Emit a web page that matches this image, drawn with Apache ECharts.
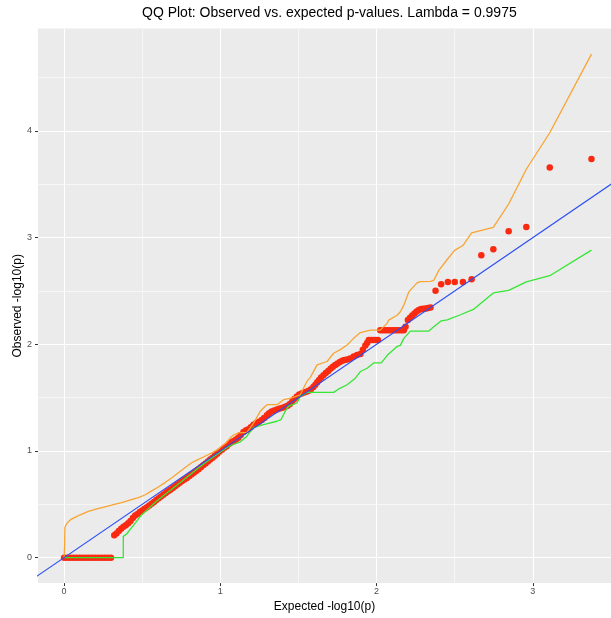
<!DOCTYPE html>
<html>
<head>
<meta charset="utf-8">
<script src="https://cdn.jsdelivr.net/npm/echarts@6/dist/echarts.min.js"></script>
<style>
  html, body { margin: 0; padding: 0; background: #fff; }
  #chart { width: 611px; height: 618px; }
</style>
</head>
<body>
<div id="chart"></div>
<script>
// axis ticks and ranges (expected / observed -log10 p)
const X_TICKS = [0, 1, 2, 3]
const Y_TICKS = [0, 1, 2, 3, 4]
const X_MINOR = [0.5, 1.5, 2.5]
const Y_MINOR = [0.5, 1.5, 2.5, 3.5, 4.5]
const X_RANGE = [-0.167, 3.5]
const Y_RANGE = [-0.238, 4.96]

// observed vs expected points
const OBS_X = [
  0, 0.02, 0.04, 0.06, 0.08, 0.10, 0.12, 0.14, 0.16, 0.18, 0.20, 0.22, 0.24, 0.26, 0.28, 0.30,
  0.321, 0.335, 0.350, 0.365, 0.380, 0.395, 0.410, 0.425, 0.440, 0.455, 0.470, 0.485, 0.500,
  0.515, 0.530, 0.545, 0.560, 0.575, 0.590, 0.605, 0.620, 0.635, 0.650, 0.665, 0.680, 0.695,
  0.710, 0.725, 0.740, 0.755, 0.770, 0.785, 0.800, 0.815, 0.830, 0.845, 0.860, 0.875, 0.890,
  0.905, 0.920, 0.935, 0.950, 0.965, 0.980, 0.995, 1.010, 1.025, 1.040, 1.055, 1.070, 1.085,
  1.100, 1.115, 1.130, 1.148, 1.165, 1.180, 1.195, 1.212, 1.230, 1.248, 1.265, 1.280, 1.298,
  1.312, 1.328, 1.345, 1.362, 1.380, 1.398, 1.415, 1.430, 1.445, 1.460, 1.475, 1.490, 1.505,
  1.520, 1.535, 1.550, 1.565, 1.580, 1.595, 1.608, 1.620, 1.632, 1.645, 1.660, 1.675, 1.690,
  1.705, 1.720, 1.735, 1.750, 1.765, 1.780, 1.795, 1.811, 1.830, 1.853, 1.875, 1.896, 1.912,
  1.928, 1.940, 1.950, 1.965, 1.980, 1.995, 2.008, 2.023, 2.040, 2.055, 2.070, 2.085, 2.100,
  2.115, 2.130, 2.145, 2.160, 2.174, 2.185, 2.200, 2.214, 2.228, 2.242, 2.256, 2.270, 2.285,
  2.300, 2.316, 2.330, 2.345, 2.377, 2.413, 2.456, 2.500, 2.552, 2.608, 2.670, 2.747, 2.845,
  2.958, 3.108, 3.375
]
const OBS_Y = [
  0, 0, 0, 0, 0, 0, 0, 0, 0, 0, 0, 0, 0, 0, 0, 0,
  0.210, 0.228, 0.250, 0.272, 0.290, 0.305, 0.322, 0.345, 0.372, 0.395, 0.410, 0.428, 0.442,
  0.458, 0.474, 0.490, 0.506, 0.522, 0.540, 0.557, 0.573, 0.590, 0.606, 0.622, 0.638, 0.654,
  0.670, 0.686, 0.702, 0.718, 0.733, 0.748, 0.764, 0.780, 0.797, 0.813, 0.830, 0.848, 0.866,
  0.884, 0.902, 0.920, 0.937, 0.955, 0.975, 0.995, 1.012, 1.030, 1.045, 1.065, 1.082, 1.095,
  1.108, 1.125, 1.150, 1.178, 1.195, 1.205, 1.222, 1.245, 1.262, 1.275, 1.290, 1.310, 1.335,
  1.355, 1.370, 1.380, 1.390, 1.398, 1.405, 1.415, 1.425, 1.440, 1.465, 1.490, 1.510, 1.530,
  1.540, 1.548, 1.556, 1.565, 1.580, 1.600, 1.622, 1.645, 1.665, 1.690, 1.710, 1.730, 1.750,
  1.770, 1.790, 1.805, 1.820, 1.835, 1.845, 1.852, 1.858, 1.868, 1.885, 1.900, 1.910, 1.950,
  1.990, 2.015, 2.040, 2.040, 2.040, 2.040, 2.040, 2.133, 2.133, 2.133, 2.133, 2.133, 2.133,
  2.133, 2.133, 2.133, 2.133, 2.133, 2.165, 2.227, 2.250, 2.270, 2.290, 2.308, 2.322, 2.330,
  2.334, 2.336, 2.340, 2.345, 2.503, 2.562, 2.585, 2.585, 2.585, 2.610, 2.835, 2.890, 3.060,
  3.100, 3.657, 3.737
]

// upper confidence band (orange)
const UPPER_X = [
  0, 0.003, 0.005, 0.015, 0.026, 0.045, 0.069, 0.10, 0.155, 0.21, 0.262, 0.315, 0.368, 0.42,
  0.475, 0.52, 0.561, 0.60, 0.646, 0.69, 0.731, 0.775, 0.817, 0.85, 0.881, 0.915, 0.945, 0.98,
  1.01, 1.04, 1.063, 1.084, 1.116, 1.17, 1.191, 1.212, 1.255, 1.287, 1.30, 1.362, 1.405, 1.437,
  1.48, 1.511, 1.554, 1.576, 1.619, 1.683, 1.725, 1.768, 1.811, 1.853, 1.896, 1.907, 1.96,
  2.023, 2.067, 2.077, 2.131, 2.152, 2.174, 2.206, 2.26, 2.281, 2.345, 2.366, 2.398, 2.452,
  2.499, 2.552, 2.608, 2.747, 2.845, 2.958, 3.108, 3.375
]
const UPPER_Y = [
  0, 0.10, 0.284, 0.315, 0.335, 0.360, 0.378, 0.400, 0.434, 0.457, 0.477, 0.497, 0.517, 0.540,
  0.564, 0.590, 0.626, 0.660, 0.704, 0.750, 0.797, 0.845, 0.890, 0.915, 0.937, 0.960, 0.984, 1.010,
  1.046, 1.080, 1.124, 1.150, 1.170, 1.175, 1.217, 1.260, 1.372, 1.420, 1.434, 1.434, 1.481, 1.490,
  1.510, 1.527, 1.652, 1.690, 1.807, 1.839, 1.916, 1.950, 1.994, 2.056, 2.110, 2.118, 2.133,
  2.133, 2.196, 2.227, 2.273, 2.305, 2.367, 2.491, 2.578, 2.588, 2.590, 2.600, 2.693, 2.795,
  2.880, 2.926, 3.044, 3.097, 3.315, 3.641, 3.983, 4.720
]

// lower confidence band (green)
const LOWER_X = [
  0, 0.379, 0.379, 0.40, 0.45, 0.497, 0.54, 0.582, 0.635, 0.689, 0.74, 0.796, 0.85, 0.903,
  0.955, 1.01, 1.05, 1.084, 1.127, 1.17, 1.212, 1.276, 1.362, 1.388, 1.415, 1.437, 1.49, 1.511,
  1.554, 1.725, 1.768, 1.811, 1.864, 1.896, 1.939, 1.981, 2.03, 2.072, 2.131, 2.152, 2.174,
  2.216, 2.334, 2.366, 2.414, 2.452, 2.537, 2.623, 2.747, 2.845, 2.958, 3.108, 3.375
]
const LOWER_Y = [
  0, 0, 0.200, 0.222, 0.315, 0.403, 0.460, 0.517, 0.580, 0.642, 0.700, 0.766, 0.828, 0.890,
  0.945, 1.000, 1.040, 1.061, 1.085, 1.139, 1.220, 1.248, 1.279, 1.294, 1.372, 1.420, 1.450, 1.512,
  1.550, 1.550, 1.590, 1.621, 1.683, 1.745, 1.776, 1.826, 1.826, 1.903, 1.980, 1.990, 2.056,
  2.124, 2.124, 2.165, 2.220, 2.230, 2.277, 2.330, 2.482, 2.506, 2.585, 2.643, 2.883
]

// y = x reference line ends
const REF_X = [-0.3, 3.6]
const REF_Y = [-0.3, 3.6]

const zip = (xs, ys) => xs.map((x, i) => [x, ys[i]])

const chart = echarts.init(document.getElementById('chart'), null, { renderer: 'canvas' })

const gridLines = [
  ...X_TICKS.map(v => ({ xAxis: v, lineStyle: { width: 1.1 } })),
  ...Y_TICKS.map(v => ({ yAxis: v, lineStyle: { width: 1.1 } })),
  ...X_MINOR.map(v => ({ xAxis: v, lineStyle: { width: 0.55 } })),
  ...Y_MINOR.map(v => ({ yAxis: v, lineStyle: { width: 0.55 } })),
]

const hiddenAxisLine = { show: true, onZero: false, lineStyle: { color: 'rgba(0,0,0,0)', width: 0 } }

const option = {
  animation: false,
  backgroundColor: '#ffffff',
  textStyle: { fontFamily: 'Liberation Sans, Arial, sans-serif' },
  title: {
    text: 'QQ Plot: Observed vs. expected p-values. Lambda = 0.9975',
    left: 142,
    top: 6,
    padding: 0,
    textStyle: { fontSize: 14, fontWeight: 'normal', color: '#000' },
  },
  grid: {
    left: 38,
    right: 0,
    top: 28.5,
    bottom: 32,
    show: true,
    backgroundColor: '#EBEBEB',
    borderWidth: 0,
    containLabel: false,
  },
  xAxis: {
    type: 'value',
    min: X_RANGE[0],
    max: X_RANGE[1],
    name: 'Expected -log10(p)',
    nameLocation: 'middle',
    nameGap: 15,
    nameTextStyle: { fontSize: 12, color: '#000' },
    axisLine: hiddenAxisLine,
    axisTick: { show: true, inside: false, customValues: X_TICKS, length: 3, lineStyle: { color: '#333', width: 1 } },
    axisLabel: { customValues: X_TICKS, color: '#4D4D4D', fontSize: 9, margin: 4 },
    splitLine: { show: false },
  },
  yAxis: {
    type: 'value',
    min: Y_RANGE[0],
    max: Y_RANGE[1],
    name: 'Observed -log10(p)',
    nameLocation: 'middle',
    nameGap: 14,
    nameMoveOverlap: false,
    nameTextStyle: { fontSize: 12, color: '#000' },
    axisLine: hiddenAxisLine,
    axisTick: { show: true, inside: false, customValues: Y_TICKS, length: 3, lineStyle: { color: '#333', width: 1 } },
    axisLabel: { customValues: Y_TICKS, color: '#4D4D4D', fontSize: 9, margin: 6 },
    splitLine: { show: false },
  },
  series: [
    {
      // panel grid lines
      type: 'line',
      data: [],
      z: 1,
      silent: true,
      markLine: {
        z: 1,
        silent: true,
        symbol: 'none',
        label: { show: false },
        lineStyle: { color: '#ffffff', type: 'solid' },
        data: gridLines,
        animation: false,
      },
    },
    {
      type: 'scatter',
      data: zip(OBS_X, OBS_Y),
      symbolSize: 6.5,
      itemStyle: { color: '#FA2A10', opacity: 1 },
      z: 2,
    },
    {
      type: 'line',
      data: zip(UPPER_X, UPPER_Y),
      showSymbol: false,
      lineStyle: { color: '#F9A431', width: 1.3 },
      z: 3,
    },
    {
      type: 'line',
      data: zip(LOWER_X, LOWER_Y),
      showSymbol: false,
      lineStyle: { color: '#35E635', width: 1.3 },
      z: 3,
    },
    {
      type: 'line',
      data: zip(REF_X, REF_Y),
      showSymbol: false,
      clip: true,
      lineStyle: { color: '#2B4EF5', width: 1.1 },
      z: 4,
    },
  ],
}

chart.setOption(option)
window.addEventListener('resize', () => chart.resize())
</script>
</body>
</html>
